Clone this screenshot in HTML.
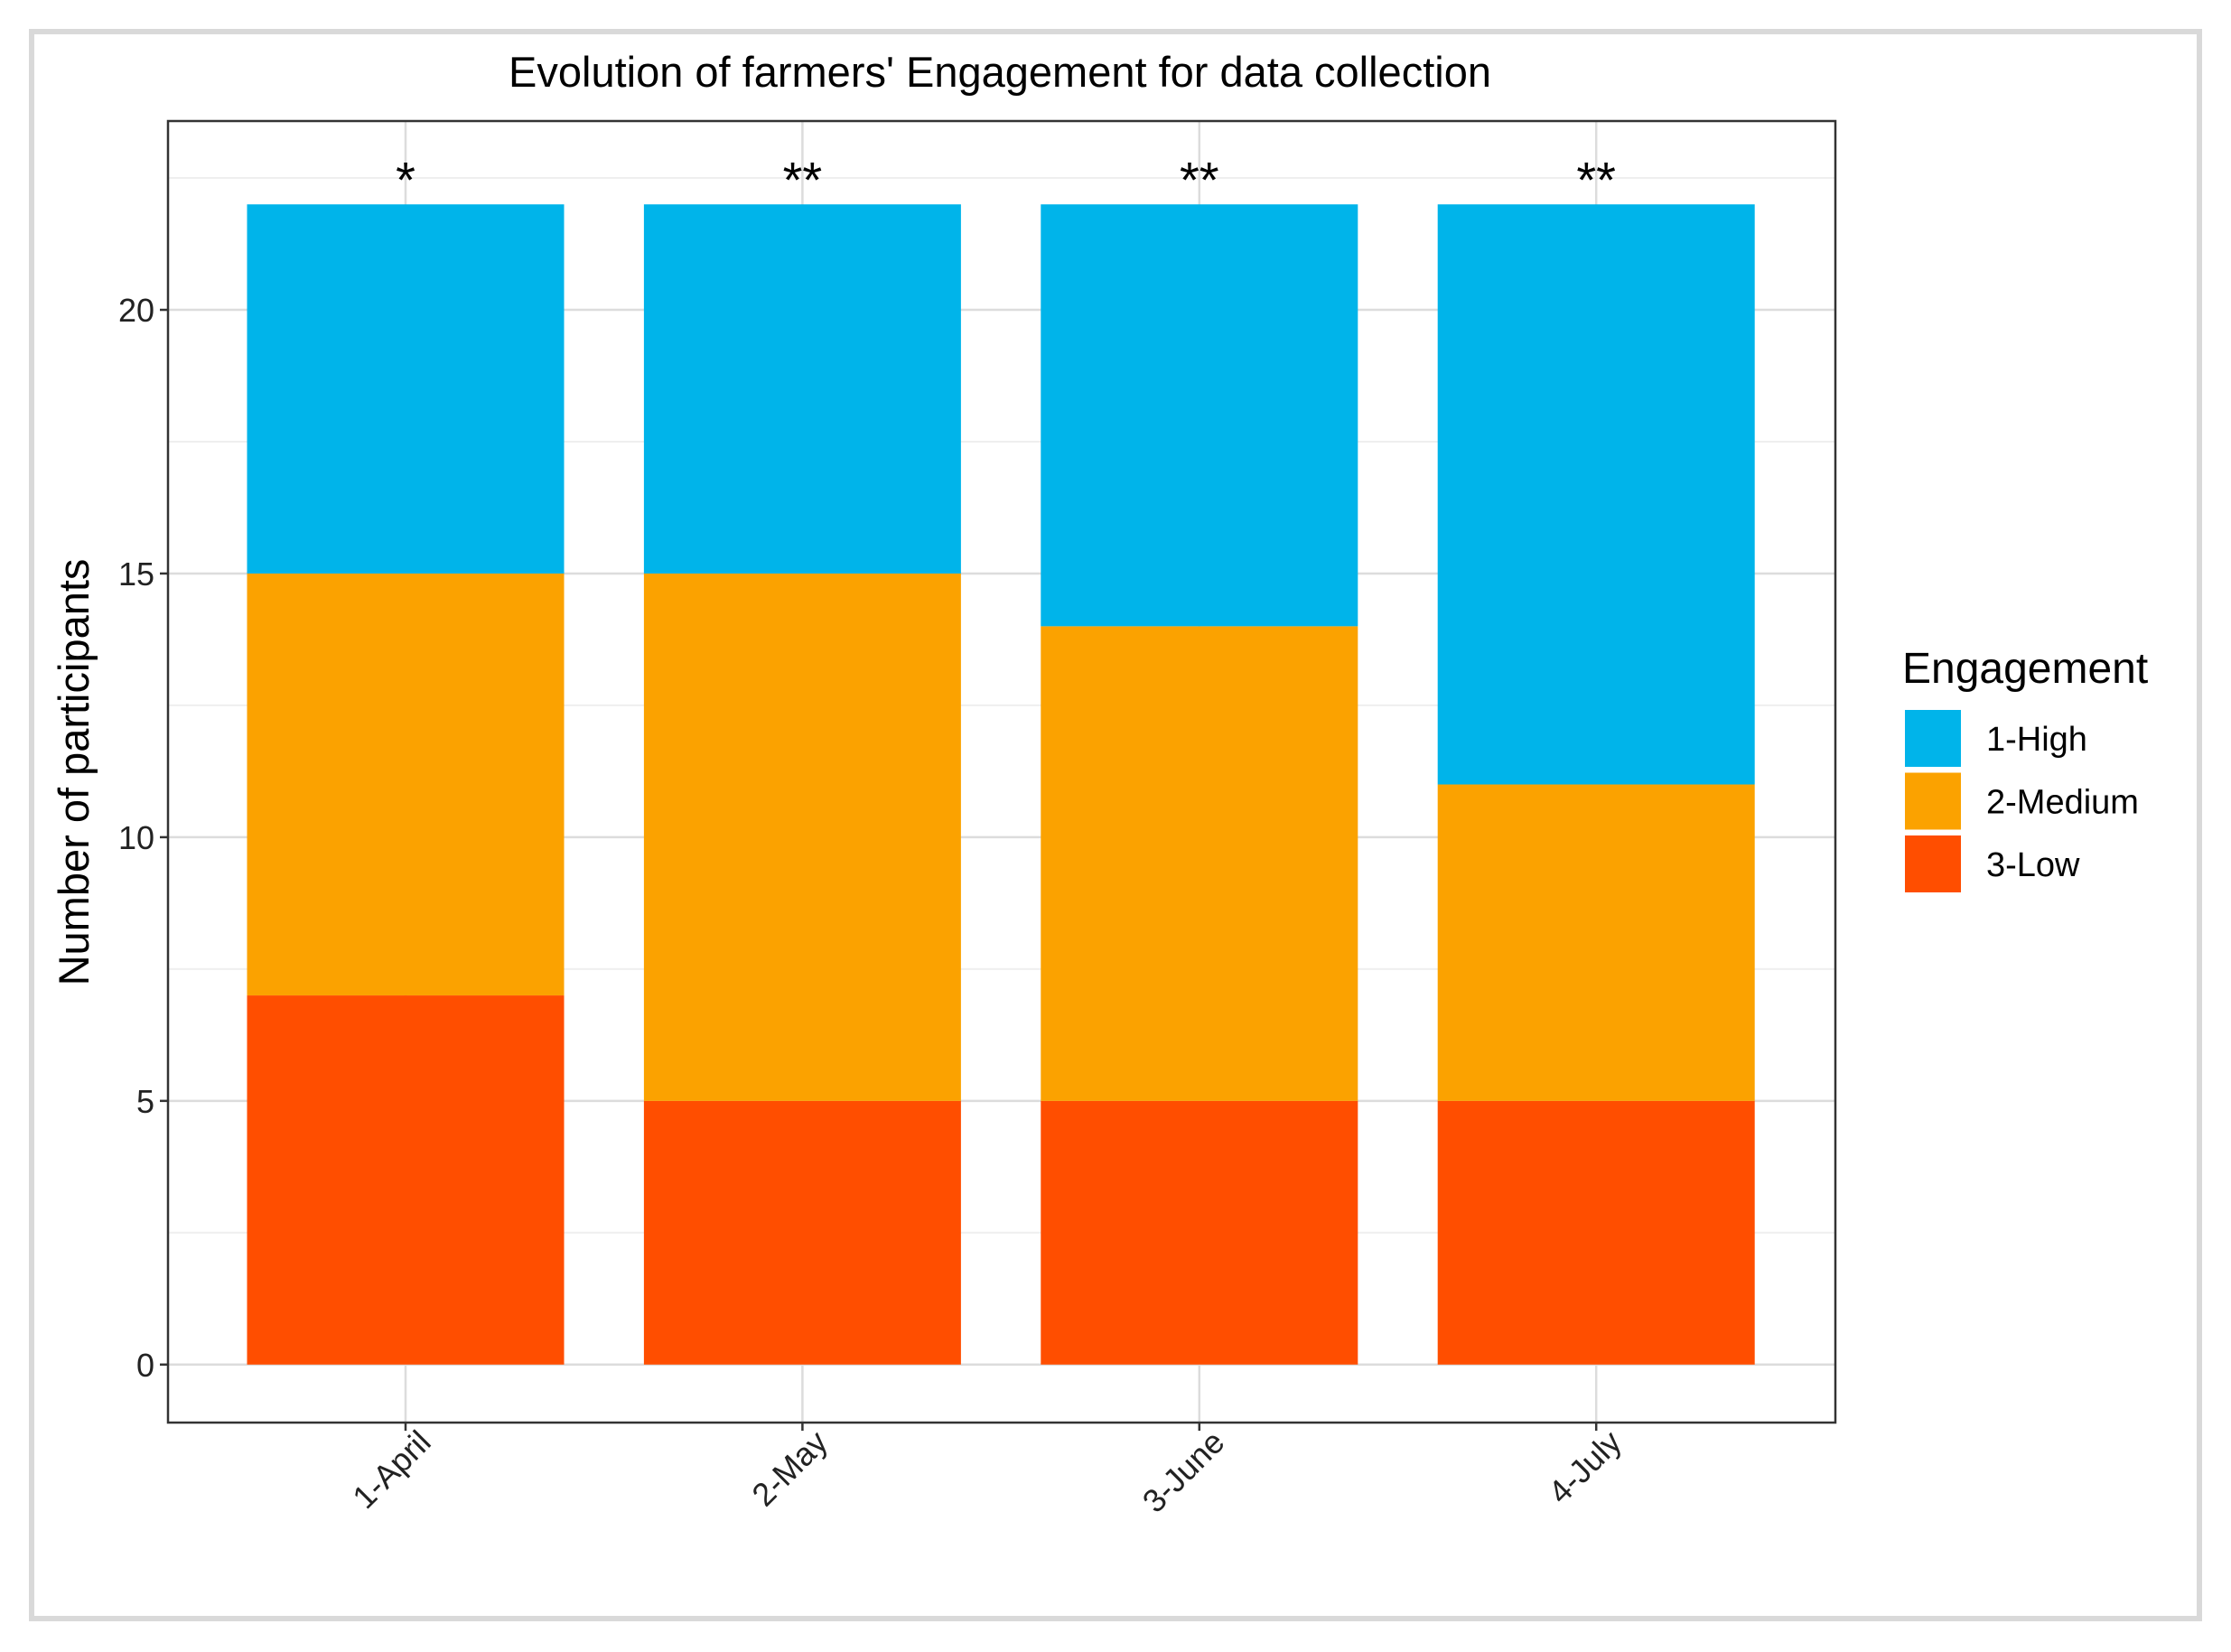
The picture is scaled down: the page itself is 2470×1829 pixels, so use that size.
<!DOCTYPE html>
<html><head><meta charset="utf-8"><style>
html,body{margin:0;padding:0;background:#fff;}
svg{display:block;font-family:"Liberation Sans",sans-serif;}
</style></head><body>
<svg id="c" width="2470" height="1829" viewBox="0 0 2470 1829" xmlns="http://www.w3.org/2000/svg">
<rect x="0" y="0" width="2470" height="1829" fill="#fff"/>
<rect x="35" y="35" width="2400" height="1757" fill="#fff" stroke="#d9d9d9" stroke-width="6"/>
<text x="1107" y="96" font-size="47" text-anchor="middle" fill="#000">Evolution of farmers' Engagement for data collection</text>
<g id="grid"></g>
<g id="bars"></g>
<rect x="186" y="134" width="1846" height="1441" fill="none" stroke="#333" stroke-width="2.5"/>
<g id="axes"></g>
<text transform="translate(98,855) rotate(-90)" font-size="47" text-anchor="middle" fill="#000">Number of participants</text>
<g id="legend"></g>
</svg>
<script>
const categories = ["1-April","2-May","3-June","4-July"];
const lowVals = [7,5,5,5];
const mediumVals = [8,10,9,6];
const highVals = [7,7,8,11];
const stars = ["*","**","**","**"];
const yTicks = [0,5,10,15,20];
const seriesNames = ["1-High","2-Medium","3-Low"];
const colors = {"1-High":"#00b4ea","2-Medium":"#fba200","3-Low":"#ff4e00"};

const NS="http://www.w3.org/2000/svg";
const plotL=186, plotR=2032, plotT=134, plotB=1575;
const yMin=-1.1, yMax=23.58;
function y(v){return plotB-(v-yMin)/(yMax-yMin)*(plotB-plotT);}
const catStep=439.4, cat0=449;
function x(i){return cat0+i*catStep;}
const barW=351;
function mk(tag,attrs,parent,text){const e=document.createElementNS(NS,tag);for(const k in attrs)e.setAttribute(k,attrs[k]);if(text!==undefined)e.textContent=text;parent.appendChild(e);return e;}
const grid=document.getElementById('grid'), bars=document.getElementById('bars'), axes=document.getElementById('axes'), legend=document.getElementById('legend');
for(let v=-2.5; v<=yMax; v+=5){ if(v<yMin) continue;
  const l=mk('line',{x1:plotL,x2:plotR,y1:y(v),y2:y(v),stroke:'#efefef','stroke-width':2},grid);
  
  
}
yTicks.forEach(v=>{
  const l=mk('line',{x1:plotL,x2:plotR,y1:y(v),y2:y(v),stroke:'#dcdcdc','stroke-width':2.5},grid);
  
  
  const t=mk('line',{x1:plotL-9,x2:plotL,y1:y(v),y2:y(v),stroke:'#333','stroke-width':2.5},axes);
  
  
  const tx=mk('text',{x:plotL-15,y:y(v)+13,'font-size':36,'text-anchor':'end',fill:'#222'},axes,String(v));
  
  
});
categories.forEach((c,i)=>{
  const l=mk('line',{x1:x(i),x2:x(i),y1:plotT,y2:plotB,stroke:'#dcdcdc','stroke-width':2.5},grid);
  
  
  const stack=[["3-Low",lowVals[i]],["2-Medium",mediumVals[i]],["1-High",highVals[i]]];
  let base=0;
  stack.forEach(([s,v])=>{
    const r=mk('rect',{x:x(i)-barW/2,y:y(base+v),width:barW,height:y(base)-y(base+v),fill:colors[s]},bars);
    
    
    base+=v;
  });
  const st=mk('text',{x:x(i),y:y(base)-8,'font-size':56,'text-anchor':'middle',fill:'#000'},bars,stars[i]);
  
  
  const t=mk('line',{x1:x(i),x2:x(i),y1:plotB,y2:plotB+9,stroke:'#333','stroke-width':2.5},axes);
  
  
  const tx=mk('text',{transform:`translate(${x(i)+30},${plotB+24}) rotate(-45)`,'font-size':36,'text-anchor':'end',fill:'#222'},axes,c);
  
  
});
const lt=mk('text',{x:2106,y:756,'font-size':48,fill:'#000'},legend,'Engagement');


seriesNames.forEach((s,k)=>{
  const yy=786+k*69.5;
  const r=mk('rect',{x:2109,y:yy,width:62,height:63,fill:colors[s]},legend);
  
  
  const t=mk('text',{x:2199,y:yy+45,'font-size':38,fill:'#000'},legend,s);
  
  
});
</script>
</body></html>
